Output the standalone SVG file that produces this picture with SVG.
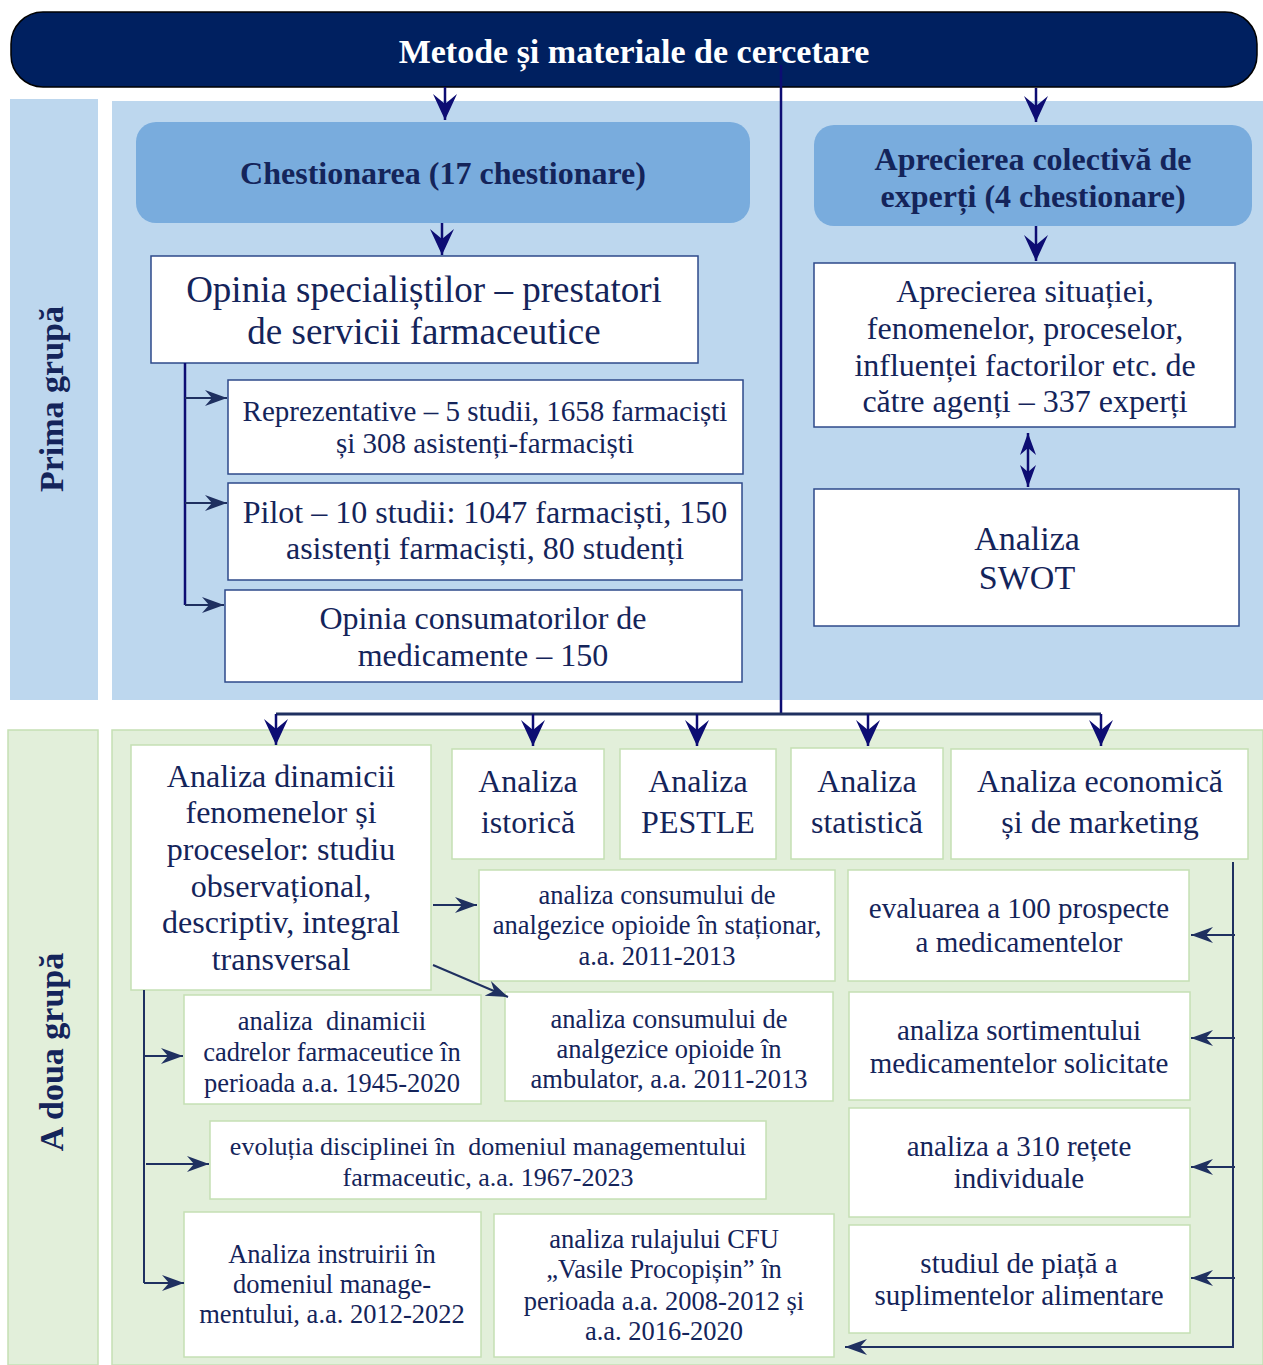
<svg xmlns="http://www.w3.org/2000/svg" width="1263" height="1365" viewBox="0 0 1263 1365">
<defs>
<style>
text{font-family:"Liberation Serif","Times New Roman",serif;fill:#14245a;text-anchor:middle}
.b{font-weight:bold}
.wbox{fill:#fff;stroke:#2e4a8a;stroke-width:1.5}
.gbox{fill:#fff;stroke:#c5e0b4;stroke-width:1.5}
.bluebox{fill:#79acdd;stroke:none}
.c1{fill:none;stroke:#0d0d73;stroke-width:2.5}
.c2{fill:none;stroke:#1f3060;stroke-width:2}
.f32{font-size:32px}
.f29{font-size:29px}
.f26{font-size:26.5px}
</style>
<marker id="big" viewBox="0 0 26 26" markerWidth="26" markerHeight="26" refX="26" refY="13" orient="auto" markerUnits="userSpaceOnUse">
<path d="M0,1 L26,13 L0,25 L10,13 Z" fill="#0d0d73"/>
</marker>
<marker id="med" viewBox="0 0 22 16" markerWidth="22" markerHeight="16" refX="22" refY="8" orient="auto" markerUnits="userSpaceOnUse">
<path d="M0,0 L22,8 L0,16 L7,8 Z" fill="#1f3060"/>
</marker>
<marker id="medU" viewBox="0 0 22 16" markerWidth="22" markerHeight="16" refX="22" refY="8" orient="auto" markerUnits="userSpaceOnUse">
<path d="M0,0 L22,8 L0,16 L7,8 Z" fill="#0d0d73"/>
</marker>
<marker id="medS" viewBox="0 0 22 16" markerWidth="22" markerHeight="16" refX="0" refY="8" orient="auto" markerUnits="userSpaceOnUse">
<path d="M22,0 L0,8 L22,16 L15,8 Z" fill="#0d0d73"/>
</marker>
</defs>

<g id="backgrounds">
<rect x="10" y="99" width="88" height="601" fill="#bdd7ee"/>
<rect x="112" y="101" width="1151" height="599" fill="#bdd7ee"/>
<rect x="8" y="730" width="90" height="635" fill="#e2efda" stroke="#c5e0b4" stroke-width="1.5"/>
<rect x="112" y="730" width="1151" height="635" fill="#e2efda" stroke="#c5e0b4" stroke-width="1.5"/>
</g>

<g id="label-prima">
<text class="b" style="font-size:34px" transform="translate(63,399) rotate(-90)">Prima grupă</text>
</g>
<g id="label-adoua">
<text class="b" style="font-size:34px" transform="translate(63,1052) rotate(-90)">A doua grupă</text>
</g>

<g id="banner">
<rect x="11" y="12" width="1246" height="75" rx="32" ry="32" fill="#002060" stroke="#000" stroke-width="1.5"/>
<text class="b" x="634" y="63" style="font-size:34px;fill:#fff">Metode și materiale de cercetare</text>
</g>

<g id="chestionarea">
<rect class="bluebox" x="136" y="122" width="614" height="101" rx="20"/>
<text class="b f32" x="443" y="184">Chestionarea (17 chestionare)</text>
</g>

<g id="opinia-specialistilor">
<rect class="wbox" x="151" y="256" width="547" height="107"/>
<text x="424" y="302" style="font-size:37px">Opinia specialiștilor – prestatori</text>
<text x="424" y="344" style="font-size:37px">de servicii farmaceutice</text>
</g>

<g id="reprezentative">
<rect class="wbox" x="228" y="380" width="515" height="94"/>
<text x="485" y="421" style="font-size:29px">Reprezentative – 5 studii, 1658 farmaciști</text>
<text x="485" y="453" style="font-size:29px">și 308 asistenți-farmaciști</text>
</g>

<g id="pilot">
<rect class="wbox" x="228" y="483" width="514" height="97"/>
<text class="f32" x="485" y="523">Pilot – 10 studii: 1047 farmaciști, 150</text>
<text class="f32" x="485" y="559">asistenți farmaciști, 80 studenți</text>
</g>

<g id="opinia-consumatorilor">
<rect class="wbox" x="225" y="590" width="517" height="92"/>
<text class="f32" x="483" y="629">Opinia consumatorilor de</text>
<text class="f32" x="483" y="666">medicamente – 150</text>
</g>

<g id="aprecierea-colectiva">
<rect class="bluebox" x="814" y="125" width="438" height="101" rx="20"/>
<text class="b f32" x="1033" y="170">Aprecierea colectivă de</text>
<text class="b f32" x="1033" y="207">experți (4 chestionare)</text>
</g>

<g id="aprecierea-situatiei">
<rect class="wbox" x="814" y="263" width="421" height="164"/>
<text class="f32" x="1025" y="302">Aprecierea situației,</text>
<text class="f32" x="1025" y="339">fenomenelor, proceselor,</text>
<text class="f32" x="1025" y="376">influenței factorilor etc. de</text>
<text class="f32" x="1025" y="412">către agenți – 337 experți</text>
</g>

<g id="swot">
<rect class="wbox" x="814" y="489" width="425" height="137"/>
<text x="1027" y="550" style="font-size:34px">Analiza</text>
<text x="1027" y="589" style="font-size:34px">SWOT</text>
</g>

<g id="analiza-dinamicii">
<rect class="gbox" x="131" y="745" width="300" height="245"/>
<text class="f32" x="281" y="787">Analiza dinamicii</text>
<text class="f32" x="281" y="823">fenomenelor și</text>
<text class="f32" x="281" y="860">proceselor: studiu</text>
<text class="f32" x="281" y="897">observațional,</text>
<text class="f32" x="281" y="933">descriptiv, integral</text>
<text class="f32" x="281" y="970">transversal</text>
</g>

<g id="analiza-istorica">
<rect class="gbox" x="452" y="749" width="152" height="110"/>
<text class="f32" x="528" y="792">Analiza</text>
<text class="f32" x="528" y="833">istorică</text>
</g>

<g id="analiza-pestle">
<rect class="gbox" x="620" y="749" width="156" height="110"/>
<text class="f32" x="698" y="792">Analiza</text>
<text class="f32" x="698" y="833">PESTLE</text>
</g>

<g id="analiza-statistica">
<rect class="gbox" x="791" y="748" width="152" height="111"/>
<text class="f32" x="867" y="792">Analiza</text>
<text class="f32" x="867" y="833">statistică</text>
</g>

<g id="analiza-economica">
<rect class="gbox" x="951" y="749" width="297" height="110"/>
<text class="f32" x="1100" y="792">Analiza economică</text>
<text class="f32" x="1100" y="833">și de marketing</text>
</g>

<g id="consum-stationar">
<rect class="gbox" x="479" y="870" width="356" height="111"/>
<text class="f26" x="657" y="904">analiza consumului de</text>
<text class="f26" x="657" y="934">analgezice opioide în staționar,</text>
<text class="f26" x="657" y="965">a.a. 2011-2013</text>
</g>

<g id="evaluarea-prospecte">
<rect class="gbox" x="848" y="870" width="341" height="111"/>
<text class="f29" x="1019" y="918">evaluarea a 100 prospecte</text>
<text class="f29" x="1019" y="952">a medicamentelor</text>
</g>

<g id="dinamica-cadrelor">
<rect class="gbox" x="184" y="995" width="297" height="109"/>
<text class="f26" x="332" y="1030" xml:space="preserve">analiza  dinamicii</text>
<text class="f26" x="332" y="1061">cadrelor farmaceutice în</text>
<text class="f26" x="332" y="1092">perioada a.a. 1945-2020</text>
</g>

<g id="consum-ambulator">
<rect class="gbox" x="505" y="992" width="328" height="109"/>
<text class="f26" x="669" y="1028">analiza consumului de</text>
<text class="f26" x="669" y="1058">analgezice opioide în</text>
<text class="f26" x="669" y="1088">ambulator, a.a. 2011-2013</text>
</g>

<g id="sortiment">
<rect class="gbox" x="849" y="992" width="341" height="108"/>
<text class="f29" x="1019" y="1040">analiza sortimentului</text>
<text class="f29" x="1019" y="1073">medicamentelor solicitate</text>
</g>

<g id="evolutia-disciplinei">
<rect class="gbox" x="210" y="1121" width="556" height="78"/>
<text x="488" y="1155" xml:space="preserve" style="font-size:26px">evoluția disciplinei în  domeniul managementului</text>
<text x="488" y="1186" style="font-size:26px">farmaceutic, a.a. 1967-2023</text>
</g>

<g id="retete">
<rect class="gbox" x="849" y="1108" width="341" height="109"/>
<text class="f29" x="1019" y="1156">analiza a 310 rețete</text>
<text class="f29" x="1019" y="1188">individuale</text>
</g>

<g id="instruire">
<rect class="gbox" x="184" y="1212" width="297" height="145"/>
<text class="f26" x="332" y="1263">Analiza instruirii în</text>
<text class="f26" x="332" y="1293">domeniul manage-</text>
<text class="f26" x="332" y="1323">mentului, a.a. 2012-2022</text>
</g>

<g id="rulaj-cfu">
<rect class="gbox" x="494" y="1214" width="340" height="143"/>
<text class="f26" x="664" y="1248">analiza rulajului CFU</text>
<text class="f26" x="664" y="1278">„Vasile Procopișin” în</text>
<text class="f26" x="664" y="1310">perioada a.a. 2008-2012 și</text>
<text class="f26" x="664" y="1340">a.a. 2016-2020</text>
</g>

<g id="studiul-piata">
<rect class="gbox" x="849" y="1225" width="341" height="108"/>
<text class="f29" x="1019" y="1273">studiul de piață a</text>
<text class="f29" x="1019" y="1305">suplimentelor alimentare</text>
</g>

<g id="connectors">
<line class="c1" x1="445" y1="87" x2="445" y2="120" marker-end="url(#big)"/>
<line class="c1" x1="1036" y1="88" x2="1036" y2="122" marker-end="url(#big)"/>
<line class="c1" x1="442" y1="223" x2="442" y2="255" marker-end="url(#big)"/>
<line class="c1" x1="1036" y1="226" x2="1036" y2="261" marker-end="url(#big)"/>
<polyline class="c1" points="781,65 781,714"/>
<polyline class="c1" points="185,363 185,605"/>
<line class="c2" x1="185" y1="398" x2="227" y2="398" marker-end="url(#med)"/>
<line class="c2" x1="185" y1="503" x2="227" y2="503" marker-end="url(#med)"/>
<line class="c2" x1="185" y1="605" x2="224" y2="605" marker-end="url(#med)"/>
<line class="c1" x1="1028" y1="433" x2="1028" y2="487" marker-start="url(#medS)" marker-end="url(#medU)"/>
<polyline class="c2" points="276,714 1101,714" style="stroke-width:3"/>
<line class="c1" x1="276" y1="714" x2="276" y2="745" marker-end="url(#big)"/>
<line class="c1" x1="533" y1="714" x2="533" y2="746" marker-end="url(#big)"/>
<line class="c1" x1="697" y1="714" x2="697" y2="746" marker-end="url(#big)"/>
<line class="c1" x1="868" y1="714" x2="868" y2="746" marker-end="url(#big)"/>
<line class="c1" x1="1101" y1="714" x2="1101" y2="746" marker-end="url(#big)"/>
<line class="c2" x1="433" y1="905" x2="477" y2="905" marker-end="url(#med)"/>
<line class="c2" x1="433" y1="965" x2="508" y2="997" marker-end="url(#med)"/>
<polyline class="c2" points="144,990 144,1283"/>
<line class="c2" x1="144" y1="1056" x2="183" y2="1056" marker-end="url(#med)"/>
<line class="c2" x1="146" y1="1164" x2="209" y2="1164" marker-end="url(#med)"/>
<line class="c2" x1="144" y1="1283" x2="184" y2="1283" marker-end="url(#med)"/>
<polyline class="c2" points="1233,862 1233,1347 845,1347" marker-end="url(#med)"/>
<line class="c2" x1="1235" y1="935" x2="1191" y2="935" marker-end="url(#med)"/>
<line class="c2" x1="1235" y1="1038" x2="1191" y2="1038" marker-end="url(#med)"/>
<line class="c2" x1="1235" y1="1167" x2="1191" y2="1167" marker-end="url(#med)"/>
<line class="c2" x1="1235" y1="1278" x2="1191" y2="1278" marker-end="url(#med)"/>
</g>
</svg>
